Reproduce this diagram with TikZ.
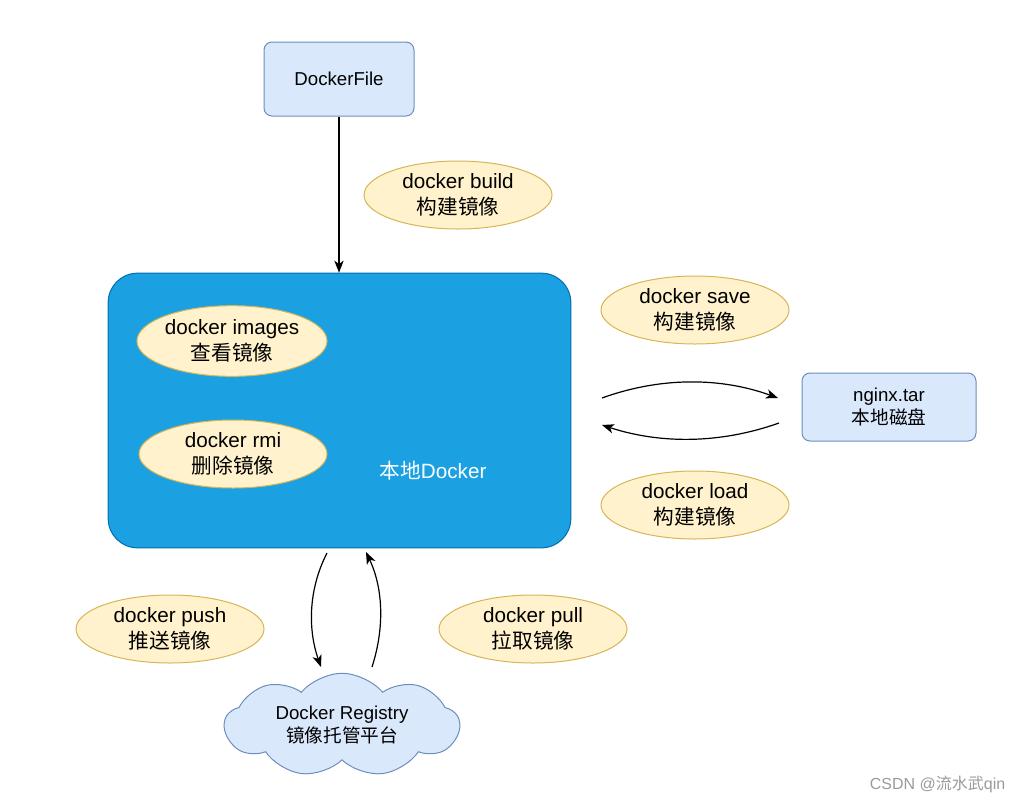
\documentclass[tikz,border=0pt]{standalone}
\usepackage{fontspec}
\setmainfont{Liberation Sans}
\newfontfamily\cjk{Noto Sans CJK SC}
\usetikzlibrary{shapes.geometric,shapes.symbols,arrows.meta}
\definecolor{bluefill}{HTML}{DAE8FC}
\definecolor{blueline}{HTML}{6C8EBF}
\definecolor{yelfill}{HTML}{FFF2CC}
\definecolor{yelline}{HTML}{D6B656}
\definecolor{dockfill}{HTML}{1BA1E2}
\definecolor{dockline}{HTML}{006EAF}
\definecolor{wmark}{HTML}{9A9A9A}
\tikzset{
  bluebox/.style={draw=blueline,fill=bluefill,line width=0.75pt,rounded corners=6pt,inner sep=0pt,align=center,font=\fontsize{14}{17}\selectfont},
  cmdell/.style={ellipse,draw=yelline,fill=yelfill,line width=0.75pt,inner sep=0pt,minimum width=141pt,minimum height=51pt,align=center,font=\fontsize{15.5}{19}\selectfont},
  conn/.style={-{Stealth[length=9pt,width=7pt,inset=2.5pt]},line width=0.9pt,black},
}
\begin{document}
\begin{tikzpicture}[x=0.75pt,y=-0.75pt]
\useasboundingbox (0,0) rectangle (1025,801);
% main local docker box
\node[draw=dockline,fill=dockfill,line width=0.75pt,rounded corners=22pt,minimum width=347pt,minimum height=206pt,inner sep=0pt] (local) at (339.5,410.5) {};
\node[text=white,font=\fontsize{15.5}{18}\selectfont] (locallbl) at (433,471) {{\cjk 本地}Docker};
% DockerFile
\node[bluebox,minimum width=112.5pt,minimum height=55.5pt] (dfile) at (339,79) {DockerFile};
\draw[conn] (dfile.south) -- (local.north -| dfile.south);
% ellipses
\node[cmdell] (build) at (458,195) {docker build\\{\cjk 构建镜像}};
\node[cmdell,minimum width=142.5pt,minimum height=53pt] (images) at (232,341) {docker images\\{\cjk 查看镜像}};
\node[cmdell] (rmi) at (233,454) {docker rmi\\{\cjk 删除镜像}};
\node[cmdell] (save) at (695,310) {docker save\\{\cjk 构建镜像}};
\node[cmdell] (load) at (695,505) {docker load\\{\cjk 构建镜像}};
\node[cmdell] (push) at (170,629) {docker push\\{\cjk 推送镜像}};
\node[cmdell] (pull) at (533,629) {docker pull\\{\cjk 拉取镜像}};
% nginx.tar
\node[bluebox,minimum width=130.5pt,minimum height=51pt] (tar) at (889,407) {nginx.tar\\{\cjk 本地磁盘}};
% registry cloud
\node[cloud,cloud puffs=9,cloud puff arc=100,aspect=2.4,draw=blueline,fill=bluefill,line width=0.75pt,minimum width=176pt,minimum height=72pt,inner sep=0pt,align=center,font=\fontsize{14}{17}\selectfont] (reg) at (342,725) {Docker Registry\\{\cjk 镜像托管平台}};
% connector end points
\coordinate (s1) at (602,398);
\coordinate (e1) at (778,398);
\coordinate (s2) at (779,423);
\coordinate (e2) at (602,425);
\coordinate (s3) at (327,553);
\coordinate (e3) at (321,667);
\coordinate (s4) at (372,667);
\coordinate (e4) at (366,552);
\draw[conn] (s1) .. controls (660,377) and (720,377) .. (e1);
\draw[conn] (s2) .. controls (720,444) and (660,444) .. (e2);
\draw[conn] (s3) .. controls (308,590) and (308,630) .. (e3);
\draw[conn] (s4) .. controls (384,630) and (384,590) .. (e4);
% watermark
\node[text=wmark,anchor=east,font=\fontsize{12}{14}\selectfont] (wm) at (1010,784) {CSDN @{\cjk 流水武}qin};
\end{tikzpicture}
\end{document}
